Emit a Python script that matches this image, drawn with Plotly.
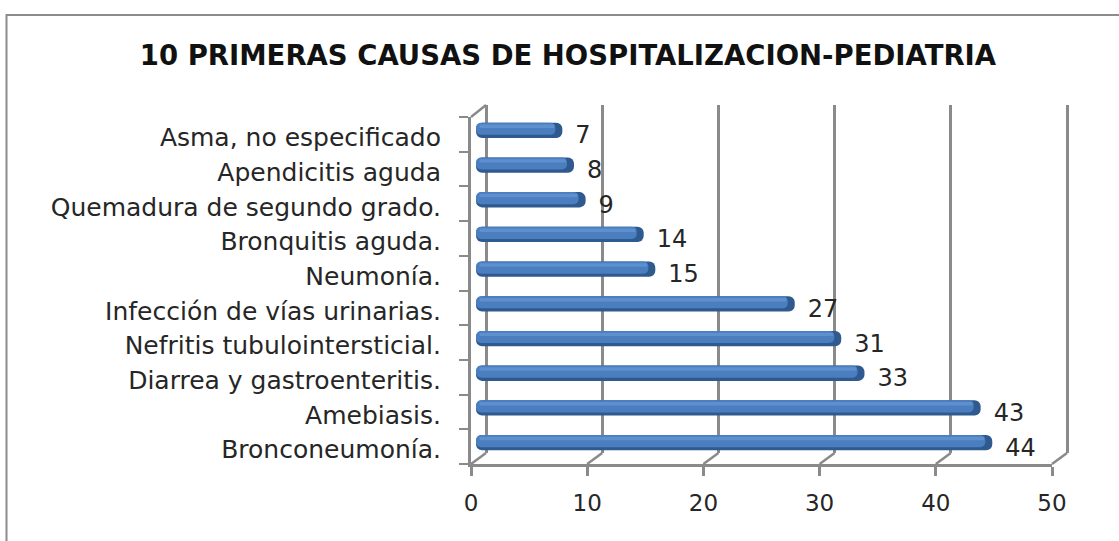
import plotly.graph_objects as go

categories = ["Bronconeumonía.", "Amebiasis.", "Diarrea y gastroenteritis.",
              "Nefritis tubulointersticial.", "Infección de vías urinarias.", "Neumonía.",
              "Bronquitis aguda.", "Quemadura de segundo grado.", "Apendicitis aguda",
              "Asma, no especificado"]
values = [44, 43, 33, 31, 27, 15, 14, 9, 8, 7]
x_ticks = [0, 10, 20, 30, 40, 50]
title = "10 PRIMERAS CAUSAS DE HOSPITALIZACION-PEDIATRIA"

W, H = 1119, 541
GRAY = "#8a8a8a"
FONT = "DejaVu Sans"
TEXT = "#262626"


def px(a, b):
    return [a / W, b / W]


def py(top, bottom):
    return [1 - bottom / H, 1 - top / H]


common_x = dict(range=[0, 50], tickvals=x_ticks, showticklabels=False, ticks="", showgrid=False, zeroline=False)
common_y = dict(type="category", categoryorder="array", categoryarray=categories, range=[-0.5, 9.5],
                dtick=1, tick0=0, showticklabels=False, ticks="", showgrid=False, zeroline=False)

fig = go.Figure()

# back wall (gridlines), subplot 1
fig.add_trace(go.Scatter(x=[None], y=[None], xaxis="x", yaxis="y", hoverinfo="skip"))
# front axes need the categories so their ticks are in order
fig.add_trace(go.Scatter(x=values, y=categories, xaxis="x2", yaxis="y2", mode="markers",
                         marker=dict(opacity=0), hoverinfo="skip"))

BASE = -0.43
CAP = 0.6
fig.add_trace(go.Bar(y=categories, x=[v - BASE for v in values], base=BASE, orientation="h",
                     xaxis="x3", yaxis="y3", width=0.44,
                     marker=dict(color="#2f5a90", cornerradius=6, line=dict(width=0))))
fig.add_trace(go.Bar(y=categories, x=[v - BASE - CAP for v in values], base=BASE, orientation="h",
                     xaxis="x3", yaxis="y3", width=0.35, offset=-0.13,
                     marker=dict(color="#4a7ebf", cornerradius=5, line=dict(width=0))))
fig.add_trace(go.Bar(y=categories, x=[v - BASE - CAP - 0.4 for v in values], base=BASE + 0.3, orientation="h",
                     xaxis="x3", yaxis="y3", width=0.10, offset=0.07,
                     marker=dict(color="#5e90d0", line=dict(width=0))))
fig.add_trace(go.Scatter(y=categories, x=values, mode="text", text=[str(v) for v in values],
                         textposition="middle right", xaxis="x4", yaxis="y4",
                         textfont=dict(family=FONT, size=24, color=TEXT), cliponaxis=False))
# helper subplot wide enough for the depth connectors
fig.add_trace(go.Scatter(x=[None], y=[None], xaxis="x5", yaxis="y5", hoverinfo="skip"))

fig.update_layout(
    width=W, height=H, margin=dict(l=0, r=0, t=0, b=0, autoexpand=False),
    paper_bgcolor="white", plot_bgcolor="rgba(0,0,0,0)", showlegend=False, barmode="overlay",
    title=dict(text=f"<b>{title}</b>", x=568 / W, xanchor="center", y=1 - 55 / H, yanchor="middle",
               font=dict(family=FONT, size=27.5, color="#111111")),
    xaxis=dict(common_x, range=[-0.5, 50.5], domain=px(480.19, 1072.81), anchor="y", showgrid=True,
               gridcolor=GRAY, gridwidth=2.5),
    yaxis=dict(common_y, domain=py(105, 453), anchor="x"),
    xaxis2=dict(common_x, domain=px(471, 1052), anchor="y2", showticklabels=True, ticks="outside",
                ticklen=9, tickwidth=2.5, tickcolor=GRAY, showline=True, linecolor=GRAY, linewidth=2.5,
                ticklabelstandoff=8, tickfont=dict(family=FONT, size=23, color=TEXT)),
    yaxis2=dict(common_y, domain=py(117, 464), anchor="x2", ticks="outside",
                tickson="boundaries", ticklen=9, tickwidth=2, tickcolor=GRAY, showline=True,
                linecolor=GRAY, linewidth=2.5),
    xaxis3=dict(common_x, range=[-1, 50], domain=px(469.4, 1062), anchor="y3"),
    yaxis3=dict(common_y, domain=py(113, 460), anchor="x3"),
    xaxis4=dict(common_x, domain=px(494, 1075), anchor="y4"),
    yaxis4=dict(common_y, domain=py(120, 467), anchor="x4", showticklabels=True, ticklabelstandoff=52,
                tickfont=dict(family=FONT, size=25, color=TEXT)),
    xaxis5=dict(common_x, range=[-5, 55], domain=px(412.9, 1110.1), anchor="y5"),
    yaxis5=dict(common_y, domain=py(90, 480), anchor="x5"),
)

shapes = [dict(type="rect", xref="paper", yref="paper", x0=6.5 / W, x1=1140 / W, y0=1 - 580 / H, y1=1 - 15 / H,
               line=dict(color="#8c8c8c", width=2), fillcolor="rgba(0,0,0,0)", layer="below")]
for t in x_ticks:
    shapes.append(dict(type="line", xref="x5", yref="y2 domain", xsizemode="pixel", ysizemode="pixel",
                       xanchor=t, yanchor=0, x0=0, x1=15, y0=0, y1=11,
                       line=dict(color=GRAY, width=2.5), layer="below"))
shapes.append(dict(type="line", xref="x5", yref="y2 domain", xsizemode="pixel", ysizemode="pixel",
                   xanchor=0, yanchor=1, x0=0, x1=15, y0=0, y1=12,
                   line=dict(color=GRAY, width=2.5), layer="below"))
fig.update_layout(shapes=shapes)

fig.write_html("out.html", config=dict(displayModeBar=False),
               post_script="document.body.style.margin='0';document.body.style.overflow='hidden';")
